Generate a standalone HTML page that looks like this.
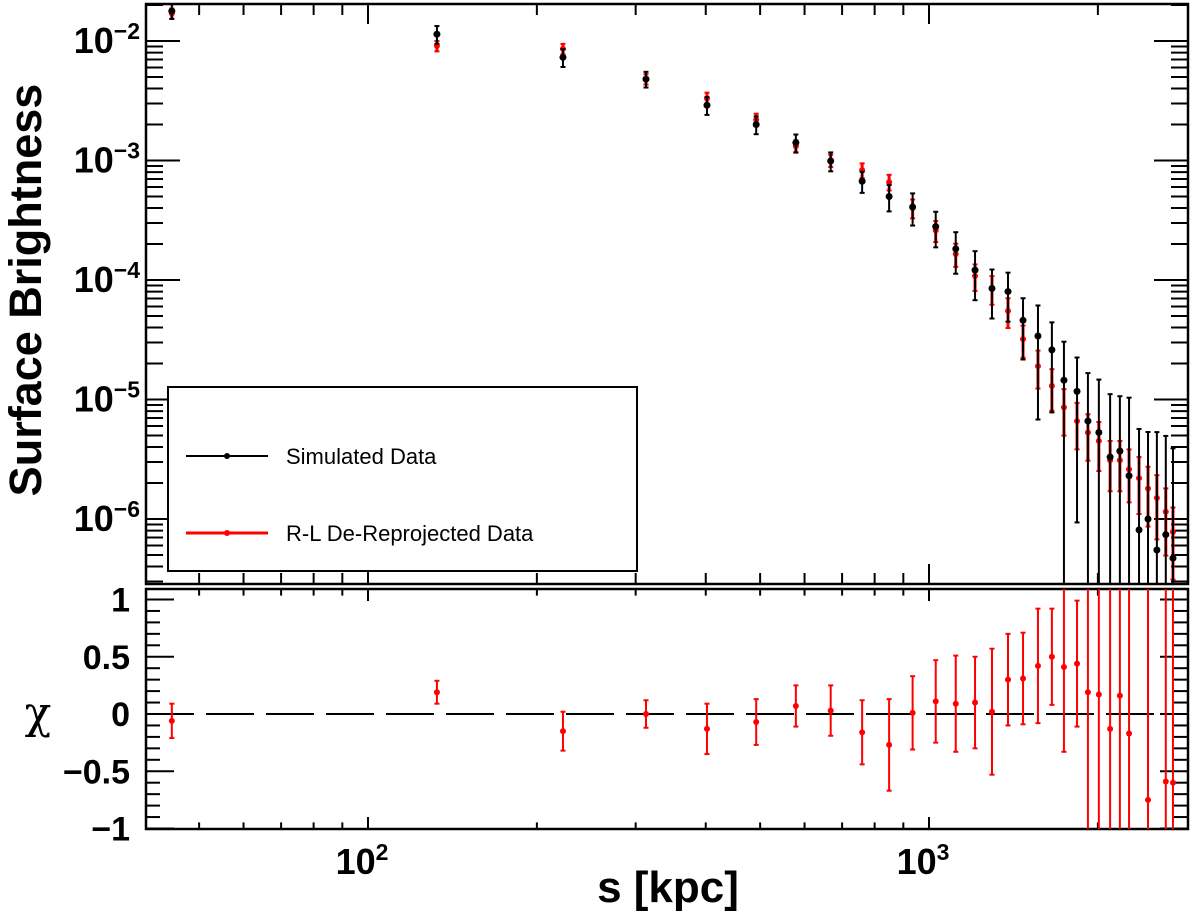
<!DOCTYPE html>
<html><head><meta charset="utf-8"><style>
html,body{margin:0;padding:0;background:#fff;overflow:hidden;width:1200px;height:919px;}
svg{display:block;font-family:"Liberation Sans",Arial,sans-serif;}
</style></head><body>
<svg id="chart" width="1200" height="919" viewBox="0 0 1200 919" xmlns="http://www.w3.org/2000/svg"></svg>
<script>
const radiusKpc=[44.7,132.7,222.6,313,402,492,579,668,760,849,935,1028,1116,1208,1295,1383,1471,1564,1656,1740,1836,1920,2008,2103,2189,2273,2368,2457,2548,2643,2722];
const simValues=[0.0178,0.0114,0.0073,0.0048,0.0029,0.0020,0.00141,0.00099,0.00067,0.00050,0.000408,0.00028,0.000182,0.000121,8.5e-5,8.0e-5,4.6e-5,3.4e-5,2.6e-5,1.45e-5,1.17e-5,6.6e-6,5.3e-6,3.3e-6,3.7e-6,2.3e-6,8.1e-7,1.0e-6,5.5e-7,7.4e-7,4.7e-7];
const simErrFrac=[0.14,0.17,0.17,0.15,0.17,0.17,0.17,0.18,0.2,0.25,0.3,0.33,0.38,0.44,0.44,0.44,0.53,0.8,0.7,1.1,0.92,1.52,1.77,2.36,1.88,3.5,6.0,4.35,8.7,5.7,7.3];
const rlValues=[0.017,0.0091,0.0086,0.0048,0.0033,0.0022,0.00132,0.0010,0.00083,0.00066,0.0004,0.00026,0.000165,0.000108,8.5e-5,5.5e-5,3.2e-5,1.9e-5,1.3e-5,8.6e-6,6.6e-6,5.3e-6,4.5e-6,3.1e-6,3.1e-6,2.6e-6,2.2e-6,1.8e-6,1.5e-6,1.15e-6,7.8e-7];
const rlErrFrac=[0.1,0.1,0.1,0.1,0.12,0.12,0.12,0.12,0.14,0.15,0.18,0.2,0.22,0.25,0.27,0.28,0.3,0.35,0.38,0.42,0.42,0.42,0.44,0.45,0.45,0.47,0.5,0.52,0.55,0.57,0.6];
const chiRadius=[44.7,132.7,222.6,313,402,492,579,668,760,849,935,1028,1116,1208,1295,1383,1471,1564,1656,1740,1836,1920,2008,2103,2189,2273,2457,2643,2722];
const chiValues=[-0.06,0.19,-0.15,0.0,-0.13,-0.07,0.07,0.03,-0.16,-0.27,0.01,0.11,0.09,0.1,0.02,0.3,0.31,0.42,0.5,0.41,0.44,0.19,0.17,-0.13,0.16,-0.17,-0.75,-0.59,-0.6];
const chiErr=[0.15,0.1,0.17,0.12,0.22,0.2,0.18,0.22,0.28,0.4,0.32,0.36,0.42,0.4,0.55,0.4,0.4,0.5,0.42,0.74,0.55,3,3,3,3,3,3,3,3];
const yTickExp=[-2,-3,-4,-5,-6];
const chiTicks=[1,0.5,0,-0.5,-1];
const chiTickLabels=["1","0.5","0","\u22120.5","\u22121"];
const xTickExp=[2,3];

const NS="http://www.w3.org/2000/svg";
const svg=document.getElementById('chart');
function el(tag,attrs,parent){const e=document.createElementNS(NS,tag);for(const k in attrs)e.setAttribute(k,attrs[k]);(parent||svg).appendChild(e);return e;}
const L=146,R=1188,T1=4,B1=584,T2=589,B2=829;
const X=v=>368+(Math.log10(v)-2)*561;
const Y=v=>41+(-2-Math.log10(v))*119.5;
const C=v=>714-v*114.5;
const clipY=(y,t,b)=>Math.max(t,Math.min(b,y));

const defs=el('defs',{});
const cp1=el('clipPath',{id:'c1'},defs);el('rect',{x:L,y:T1,width:R-L,height:B1-T1},cp1);
const cp2=el('clipPath',{id:'c2'},defs);el('rect',{x:L,y:T2,width:R-L,height:B2-T2},cp2);

const f1=el('rect',{x:L,y:T1,width:R-L,height:B1-T1,fill:'none',stroke:'#000','stroke-width':2.5});

const f2=el('rect',{x:L,y:T2,width:R-L,height:B2-T2,fill:'none',stroke:'#000','stroke-width':2.5});


const tk=el('g',{stroke:'#000','stroke-width':2});

for(let d=1;d<=3;d++){for(let m=1;m<10;m++){const v=m*Math.pow(10,d);const x=X(v);if(x<=L||x>=R)continue;const len=m===1?20:11;
 el('line',{x1:x,x2:x,y1:B1,y2:B1-len},tk);el('line',{x1:x,x2:x,y1:T1,y2:T1+len},tk);
 el('line',{x1:x,x2:x,y1:B2,y2:B2-len*0.6},tk);el('line',{x1:x,x2:x,y1:T2,y2:T2+len*0.6},tk);}}
for(let d=-7;d<=-1;d++){for(let m=1;m<10;m++){const v=m*Math.pow(10,d);const y=Y(v);if(y<=T1||y>=B1)continue;const len=m===1?34:17;
 el('line',{x1:L,x2:L+len,y1:y,y2:y},tk);el('line',{x1:R,x2:R-len,y1:y,y2:y},tk);}}
for(let i=-10;i<=11;i++){const v=i/10;const y=C(v);if(y<T2||y>B2+1)continue;const len=(i%5===0)?28:14;
 el('line',{x1:L,x2:L+len,y1:y,y2:y},tk);el('line',{x1:R,x2:R-len,y1:y,y2:y},tk);}

yTickExp.forEach(e=>{const t=el('text',{x:140,y:Y(Math.pow(10,e))+12,'font-size':36,'font-weight':'bold','text-anchor':'end'});
 
 const a=el('tspan',{},t);a.textContent='10';const b=el('tspan',{dy:-14,'font-size':23},t);b.textContent='\u2212'+(-e);});
chiTicks.forEach((v,i)=>{const t=el('text',{x:130,y:C(v)+12,'font-size':34,'font-weight':'bold','text-anchor':'end'});
 t.textContent=chiTickLabels[i];});
xTickExp.forEach(e=>{const t=el('text',{x:X(Math.pow(10,e))-6,y:874,'font-size':36,'font-weight':'bold','text-anchor':'middle'});
 
 const a=el('tspan',{},t);a.textContent='10';const b=el('tspan',{dy:-14,'font-size':23},t);b.textContent=String(e);});

let t=el('text',{x:0,y:0,'font-size':45,'font-weight':'bold','text-anchor':'middle',transform:'translate(41,290) rotate(-90)'});
t.textContent='Surface Brightness';
t=el('text',{x:668,y:902,'font-size':44,'font-weight':'bold','text-anchor':'middle'});
t.textContent='s [kpc]';
t=el('text',{x:38,y:728,'font-size':44,'font-family':'"DejaVu Serif",serif','text-anchor':'middle'});
t.textContent='\u03c7';

const zl=el('line',{x1:L,x2:R,y1:C(0),y2:C(0),stroke:'#000','stroke-width':2,'stroke-dasharray':'48,12'});


function series(vals,fr,color,name,r,w){const g=el('g',{'clip-path':'url(#c1)',stroke:color,fill:color});
 
 vals.forEach((v,i)=>{const x=X(radiusKpc[i]);const s=v*fr[i];const yu=clipY(Y(v+s),T1,B1);const yl=v-s>0?Y(v-s):B1;
  el('line',{x1:x,x2:x,y1:yu,y2:clipY(yl,T1,B1),'stroke-width':w},g);
  el('line',{x1:x-2.5,x2:x+2.5,y1:yu,y2:yu,'stroke-width':2},g);
  if(v-s>0&&yl<B1)el('line',{x1:x-2.5,x2:x+2.5,y1:yl,y2:yl,'stroke-width':2},g);
  const p=el('circle',{cx:x,cy:Y(v),r:r,stroke:'none'},g);
  });}
series(rlValues,rlErrFrac,'#f00','rl-deprojected-series',3,3);
series(simValues,simErrFrac,'#000','simulated-series',3.5,2);

const cg=el('g',{'clip-path':'url(#c2)',stroke:'#f00',fill:'#f00'});

chiValues.forEach((v,i)=>{const x=X(chiRadius[i]);const yuR=C(v+chiErr[i]),ylR=C(v-chiErr[i]);
 const yu=clipY(yuR,T2,B2),yl=clipY(ylR,T2,B2);
 el('line',{x1:x,x2:x,y1:yu,y2:yl,'stroke-width':2},cg);
 if(yuR>T2)el('line',{x1:x-2.5,x2:x+2.5,y1:yu,y2:yu,'stroke-width':2},cg);
 if(ylR<B2)el('line',{x1:x-2.5,x2:x+2.5,y1:yl,y2:yl,'stroke-width':2},cg);
 const p=el('circle',{cx:x,cy:C(v),r:3,stroke:'none'},cg);
 });

const lg=el('g',{});
el('rect',{x:168,y:387,width:469,height:184,fill:'#fff',stroke:'#000','stroke-width':2},lg);
const e1=el('g',{},lg);
el('line',{x1:186,x2:268,y1:456,y2:456,stroke:'#000','stroke-width':2},e1);el('circle',{cx:227,cy:456,r:3},e1);
let lt=el('text',{x:286,y:464,'font-size':22},e1);lt.textContent='Simulated Data';
const e2=el('g',{},lg);
el('line',{x1:186,x2:268,y1:533,y2:533,stroke:'#f00','stroke-width':3},e2);el('circle',{cx:227,cy:533,r:3,fill:'#f00'},e2);
lt=el('text',{x:286,y:541,'font-size':22},e2);lt.textContent='R-L De-Reprojected Data';
</script>
</body></html>
